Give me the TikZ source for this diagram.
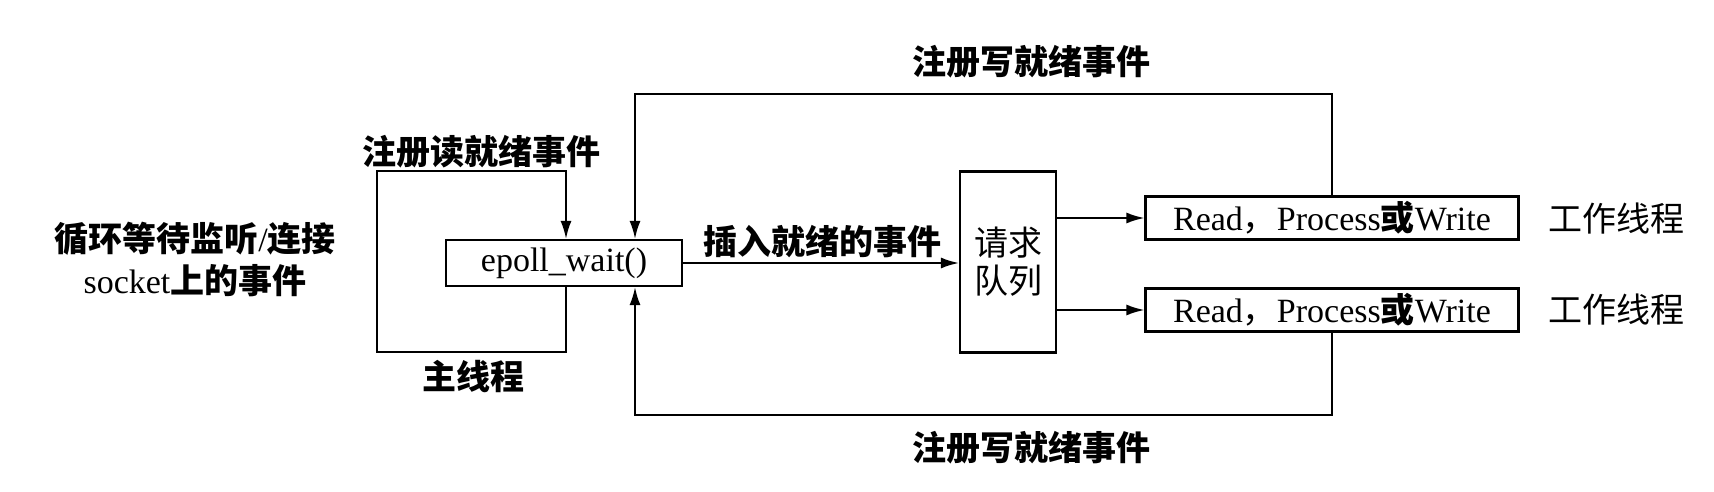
\documentclass[tikz,border=0pt]{standalone}
\usepackage{fontspec}
\setmainfont{Liberation Serif}
\newfontfamily\cjk{Noto Sans CJK SC}
\usetikzlibrary{arrows.meta}
\begin{document}
\begin{tikzpicture}[x=1pt,y=-1pt,line width=2pt,
  box/.style={draw,line width=2.2pt,inner sep=0pt,font=\fontsize{34}{40}\selectfont},
  lbl/.style={inner sep=0pt,font=\fontsize{34}{40}\selectfont\cjk\bfseries},
  plain/.style={inner sep=0pt,font=\fontsize{34}{40}\selectfont\cjk},
  arr/.style={-{Latex[length=18pt,width=11pt]}}]
\useasboundingbox (0,0) rectangle (1714,492);
% nodes
\node[box,minimum width=236pt,minimum height=46pt] (ep) at (564,263) {epoll\_wait()};
\node[box,minimum width=96pt,minimum height=181pt,align=center,
      font=\fontsize{34}{38}\selectfont\cjk] (q) at (1008,262) {请求\\队列};
\node[box,minimum width=373pt,minimum height=43pt] (r1) at (1332,218) {Read{\cjk ，}Process{\cjk\bfseries 或}Write};
\node[box,minimum width=373pt,minimum height=43pt] (r2) at (1332,310) {Read{\cjk ，}Process{\cjk\bfseries 或}Write};
\node[plain] (w1) at (1616,219) {工作线程};
\node[plain] (w2) at (1616,310) {工作线程};
\node[lbl] (regw1) at (1031,62) {注册写就绪事件};
\node[lbl] (regw2) at (1031,448) {注册写就绪事件};
\node[lbl] (regr) at (481,152) {注册读就绪事件};
\node[lbl] (mainth) at (473,377) {主线程};
\node[lbl] (ins) at (822,242) {插入就绪的事件};
\node[lbl,align=center,font=\fontsize{34}{42}\selectfont\cjk\bfseries] (loop) at (195,259)
  {循环等待监听{\rmfamily\mdseries /}连接\\{\rmfamily\mdseries socket}上的事件};
% coordinates
\coordinate (loopx) at (635,0);
\coordinate (topy) at (0,94);
\coordinate (boty) at (0,415);
\coordinate (mx) at (566,0);
\coordinate (mainBL) at (377,352);
\coordinate (mainTL) at (377,171);
% connectors
\draw[arr] (ep.east) -- (ep.east -| q.west);
\draw[arr] (r1.west -| q.east) -- (r1.west);
\draw[arr] (r2.west -| q.east) -- (r2.west);
\draw[arr] (r1.north) -- (r1.north |- topy) -- (loopx |- topy) -- (loopx |- ep.north);
\draw[arr] (r2.south) -- (r2.south |- boty) -- (loopx |- boty) -- (loopx |- ep.south);
\draw[arr] (ep.south -| mx) -- (mainBL -| mx) -- (mainBL) -- (mainTL) -- (mainTL -| mx) -- (ep.north -| mx);
\end{tikzpicture}
\end{document}
